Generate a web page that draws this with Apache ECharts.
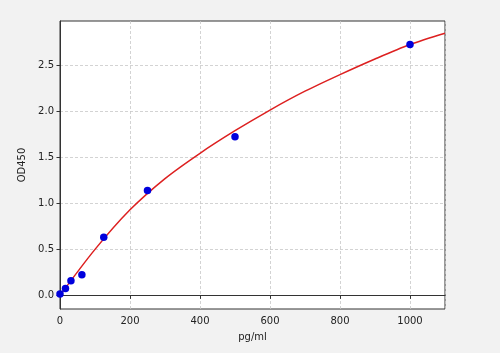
<!DOCTYPE html>
<html>
<head>
<meta charset="utf-8">
<script src="https://cdn.jsdelivr.net/npm/echarts@6/dist/echarts.min.js"></script>
<style>
html,body{margin:0;padding:0;background:#f2f2f2;}
#c{width:500px;height:353px;}
</style>
</head>
<body>
<div id="c"></div>
<script>
// Standard points (concentration pg/ml, OD450)
const stdConc = [0, 15.625, 31.25, 62.5, 125, 250, 500, 1000];
const stdOD = [0.015, 0.076, 0.16, 0.225, 0.633, 1.139, 1.725, 2.727];
// Fitted curve
const curveX = [0, 100, 200, 300, 400, 500, 600, 700, 800, 900, 1000, 1100];
const curveY = [0.0, 0.50, 0.93, 1.27, 1.545, 1.79, 2.015, 2.22, 2.40, 2.57, 2.727, 2.85];
const xTicks = [0, 200, 400, 600, 800, 1000];
const yTicks = [0, 0.5, 1.0, 1.5, 2.0, 2.5];

const chart = echarts.init(document.getElementById('c'), null, {renderer: 'canvas'});
const font = 'DejaVu Sans';
const axisColor = '#333';
chart.setOption({
  backgroundColor: '#f2f2f2',
  animation: false,
  grid: {left: 60, right: 55, top: 21, bottom: 44, show: true, backgroundColor: '#ffffff', borderColor: axisColor, borderWidth: 1},
  xAxis: {
    type: 'value', min: 0, max: 1100, interval: 200,
    name: 'pg/ml', nameLocation: 'middle', nameGap: 23,
    nameTextStyle: {fontFamily: font, fontSize: 10, color: '#222'},
    axisLine: {lineStyle: {color: axisColor}},
    axisTick: {show: true, length: 3.5, lineStyle: {color: axisColor}},
    axisLabel: {fontFamily: font, fontSize: 10, color: '#222', margin: 7, showMaxLabel: false,
      formatter: v => xTicks.includes(v) ? String(v) : ''},
    splitLine: {show: true, lineStyle: {color: '#c8c8c8', type: [3, 2], width: 0.8}}
  },
  yAxis: {
    type: 'value', min: -0.148, max: 2.983,
    name: 'OD450', nameLocation: 'middle', nameGap: 28,
    nameTextStyle: {fontFamily: font, fontSize: 10, color: '#222'},
    axisLine: {show: true, lineStyle: {color: axisColor}},
    axisTick: {show: true, length: 3.5, lineStyle: {color: axisColor}, customValues: yTicks},
    axisLabel: {fontFamily: font, fontSize: 10, color: '#222', margin: 6, customValues: yTicks,
      formatter: v => v.toFixed(1)},
    splitLine: {show: true, lineStyle: {color: '#c8c8c8', type: [3, 2], width: 0.8}}
  },
  series: [
    {
      type: 'line', data: curveX.map((x, i) => [x, curveY[i]]),
      smooth: 0.3, showSymbol: false, lineStyle: {color: '#dd2020', width: 1.5}, z: 2
    },
    {
      type: 'scatter', data: stdConc.map((x, i) => [x, stdOD[i]]),
      symbolSize: 7.5, itemStyle: {color: '#0000dd', opacity: 1}, z: 3
    }
  ]
});
</script>
</body>
</html>
